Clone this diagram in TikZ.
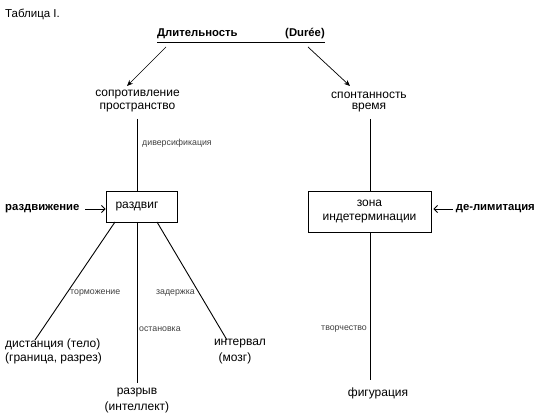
\documentclass[tikz,border=0pt]{standalone}
\usepackage{fontspec}
\setmainfont{Liberation Sans}
\usetikzlibrary{arrows.meta}
\definecolor{labgrey}{HTML}{404040}
\begin{document}
\begin{tikzpicture}[x=1pt,y=-1pt,
  main/.style={font=\fontsize{12}{14}\selectfont, inner sep=0pt},
  mainb/.style={font=\fontsize{11.3}{13}\selectfont\bfseries, inner sep=0pt},
  small/.style={font=\fontsize{8.8}{10}\selectfont, text=labgrey, inner sep=0pt},
  boxnode/.style={draw, line width=0.9pt, inner sep=0pt},
  ln/.style={line width=0.9pt},
  topar/.style={line width=0.7pt, -{Stealth[length=6pt,width=5pt]}},
  sidear/.style={line width=0.8pt, -{Straight Barb[length=3.5pt,width=7pt]}}]
\useasboundingbox (0,0) rectangle (539,419);
% title
\node[main, anchor=west, font=\fontsize{11.5}{13}\selectfont] (tab) at (5,14) {Таблица I.};
\node[mainb, anchor=west] (dl) at (157,34) {Длительность};
\node[mainb, anchor=east] (du) at (325,34) {(Durée)};
\coordinate (ul1) at (157,42);
\coordinate (ul2) at (325,42);
\draw[line width=0.8pt] (ul1) -- (ul2);
% second row
\node[main] (sopr) at (137.5,95) {сопротивление};
\node[main] (prost) at (137.5,108) {пространство};
\node[main] (spon) at (369,95) {спонтанность};
\node[main] (vrem) at (369,108) {время};
\coordinate (a1s) at (166,47);
\coordinate (a1e) at (127,86);
\coordinate (a2s) at (308,47);
\coordinate (a2e) at (350,86);
\draw[topar] (a1s) -- (a1e);
\draw[topar] (a2s) -- (a2e);
% boxes
\node[boxnode, minimum width=71pt, minimum height=31pt] (rbox) at (141.5,206.5) {};
\node[main] (rtext) at (137,207) {раздвиг};
\node[boxnode, minimum width=123pt, minimum height=41pt, align=center, font=\fontsize{12}{14}\selectfont] (zbox) at (369.5,211.5) {зона\\индетерминации};
% vertical lines from second row
\coordinate (l1) at (137,119);
\coordinate (r1) at (370,119);
\draw[ln] (l1) -- (l1 |- rbox.north);
\draw[ln] (r1) -- (r1 |- zbox.north);
\node[small, anchor=west] (div) at (142,143) {диверсификация};
% side labels
\node[mainb, anchor=west] (razdv) at (5,209) {раздвижение};
\node[mainb, anchor=east] (delim) at (535,209) {де-лимитация};
\coordinate (sa1) at (85,209);
\coordinate (sa2) at (453,209);
\draw[sidear] (sa1) -- (rbox.west |- sa1);
\draw[sidear] (sa2) -- ([xshift=2pt]zbox.east |- sa2);
% left bottom
\coordinate (bl) at (115,222);
\coordinate (bm) at (137,222);
\coordinate (br) at (157,222);
\coordinate (el) at (35,340);
\coordinate (em) at (137,383);
\coordinate (er) at (227,340);
\draw[ln] (bl) -- (el);
\draw[ln] (bm) -- (em);
\draw[ln] (br) -- (er);
\node[small, anchor=west] (torm) at (70,293) {торможение};
\node[small, anchor=east] (zad) at (195,293) {задержка};
\node[small, anchor=west] (ost) at (139,329) {остановка};
\node[main, anchor=west] (dist1) at (5,344) {дистанция (тело)};
\node[main, anchor=west] (dist2) at (5,358) {(граница, разрез)};
\node[main] (int1) at (240,344) {интервал};
\node[main] (int2) at (235,358) {(мозг)};
\node[main] (raz1) at (137,393) {разрыв};
\node[main] (raz2) at (137,407) {(интеллект)};
% right bottom
\coordinate (zr) at (370,380);
\draw[ln] (zbox.south -| zr) -- (zr);
\node[small, anchor=east] (tvor) at (367,329) {творчество};
\node[main] (fig) at (378,393) {фигурация};
\end{tikzpicture}
\end{document}
